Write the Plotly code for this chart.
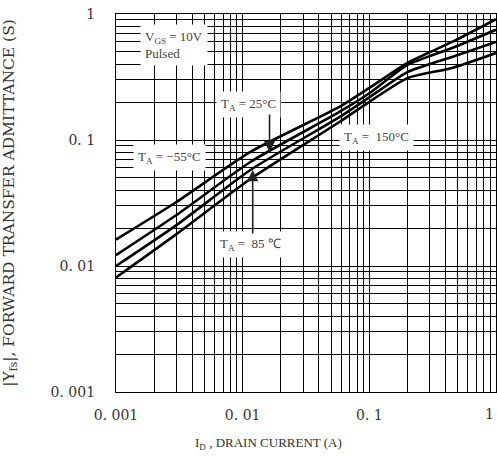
import numpy as np
import plotly.graph_objects as go

# drain current (A)
id_current = [0.001, 0.003, 0.0115, 0.058, 0.1, 0.2, 0.45, 1.0]
# |Yfs| (S) per ambient temperature
yfs_m55 = [0.0162, 0.0322, 0.0804, 0.183, 0.259, 0.41, 0.60, 0.91]
yfs_25 = [0.0122, 0.0254, 0.0669, 0.167, 0.235, 0.394, 0.537, 0.75]
yfs_85 = [0.0100, 0.0211, 0.0578, 0.152, 0.218, 0.346, 0.456, 0.60]
yfs_150 = [0.0081, 0.0179, 0.0490, 0.139, 0.201, 0.310, 0.373, 0.49]

tick_vals = [0.001, 0.01, 0.1, 1]
tick_text = ["0. 001", "0. 01", "0. 1", "1"]

SERIF = "DejaVu Serif"
THIN = "Liberation Serif"
TICK_FONT = dict(family=SERIF, size=14, color="#333")

fig = go.Figure()
for ys in (yfs_m55, yfs_25, yfs_85, yfs_150):
    fig.add_trace(go.Scatter(x=id_current, y=ys, mode="lines",
                             line=dict(color="black", width=2.6, shape="spline", smoothing=0.6),
                             showlegend=False, hoverinfo="skip", cliponaxis=True))

axis_common = dict(
    type="log", showgrid=True, gridcolor="black", gridwidth=1,
    showline=True, linecolor="black", linewidth=1.2, mirror=True,
    ticks="", zeroline=False, automargin=False, ticklabeloverflow="allow",
    tickfont=TICK_FONT,
    minor=dict(dtick="D1", showgrid=True, gridcolor="black", gridwidth=1, ticks=""),
)

# x: the last label ("1") sits at the window edge, so it is drawn right-aligned below
fig.update_xaxes(range=[-3, 0], ticklabelstandoff=10,
                 tickvals=tick_vals[:-1], ticktext=tick_text[:-1], **axis_common)
fig.update_yaxes(range=[-3, 0], ticklabelstandoff=17,
                 tickvals=tick_vals, ticktext=tick_text,
                 title=dict(text="|Y<sub>fs</sub>|, FORWARD TRANSFER ADMITTANCE (S)",
                            font=dict(family=SERIF, size=15.5, color="#333"), standoff=60),
                 **axis_common)
fig.add_annotation(x=1, y=-0.058, xref="paper", yref="paper", showarrow=False,
                   text=tick_text[-1], font=TICK_FONT, xanchor="right", yanchor="middle")

# x-axis title (placed like the reference, slightly left of centre)
fig.add_annotation(x=0.40, y=-0.135, xref="paper", yref="paper", showarrow=False,
                   text="I<sub>D</sub> , DRAIN CURRENT (A)",
                   font=dict(family=THIN, size=13, color="#333"), yanchor="middle")

L = np.log10
ann_font = dict(family=THIN, size=13, color="#444")

def label(x, y, text, **kw):
    fig.add_annotation(x=L(x), y=L(y), xref="x", yref="y", text=text, showarrow=False,
                       bgcolor="white", font=ann_font, borderpad=4, **kw)

label(0.00155, 0.567, "V<sub>GS</sub> = 10V<br>Pulsed", xanchor="left", align="left")
label(0.00266, 0.072, "T<sub>A</sub> = −55°C")
label(0.01114, 0.19, "T<sub>A</sub> = 25°C")
label(0.1135, 0.1056, "T<sub>A</sub> =  150°C")
label(0.0116, 0.01495, "T<sub>A</sub> =  85 ℃")

# arrows
fig.add_annotation(x=L(0.0163), y=L(0.080), ax=L(0.0163), ay=L(0.164), axref="x", ayref="y",
                   xref="x", yref="y", text="", showarrow=True, arrowhead=2, arrowsize=1.4,
                   arrowwidth=1.6, arrowcolor="#222")
fig.add_annotation(x=L(0.0120), y=L(0.0578), ax=L(0.0120), ay=L(0.0176), axref="x", ayref="y",
                   xref="x", yref="y", text="", showarrow=True, arrowhead=2, arrowsize=1.4,
                   arrowwidth=1.6, arrowcolor="#222")

fig.update_layout(width=497, height=457, margin=dict(l=116, r=1, t=14, b=65, autoexpand=False),
                  plot_bgcolor="white", paper_bgcolor="white")

# remove the default 8px page margin so the figure fills the window exactly
fig.write_html("out.html", config={"displayModeBar": False},
               post_script="document.body.style.margin='0';")
